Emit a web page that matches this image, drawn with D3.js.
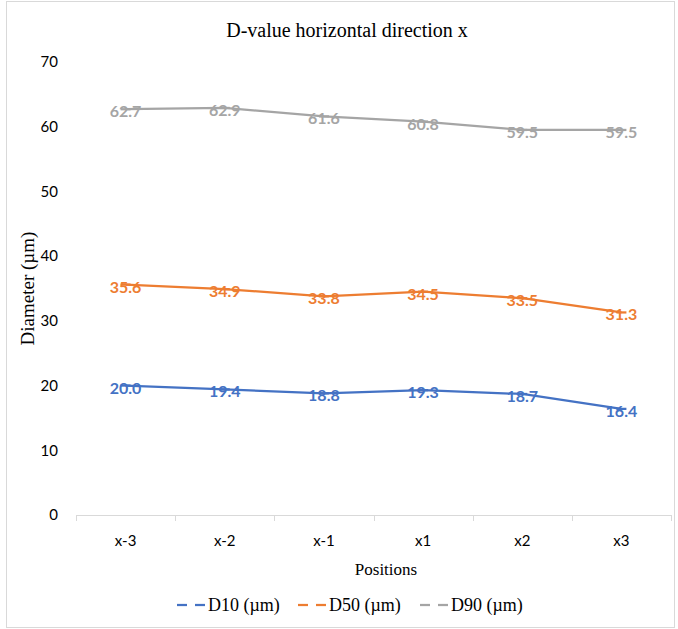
<!DOCTYPE html>
<html>
<head>
<meta charset="utf-8">
<script src="https://cdn.jsdelivr.net/npm/d3@7"></script>
<style>
  html, body { margin: 0; padding: 0; background: #fff; }
  svg { display: block; }
</style>
</head>
<body>
<svg id="chart" width="678" height="629"></svg>
<script>
// Positions along the horizontal direction
const positions = ["x-3", "x-2", "x-1", "x1", "x2", "x3"];
// Particle diameters (µm) at each position
const d10 = [20.0, 19.4, 18.8, 19.3, 18.7, 16.4];
const d50 = [35.6, 34.9, 33.8, 34.5, 33.5, 31.3];
const d90 = [62.7, 62.9, 61.6, 60.8, 59.5, 59.5];
const yTicks = [0, 10, 20, 30, 40, 50, 60, 70];

const series = [
  { name: "D10 (µm)", values: d10, color: "#4472C4" },
  { name: "D50 (µm)", values: d50, color: "#ED7D31" },
  { name: "D90 (µm)", values: d90, color: "#A5A5A5" }
];

const svg = d3.select("#chart");
const plot = { left: 76, right: 671, top: 62, bottom: 515 };
const serif = "'Liberation Serif', 'Times New Roman', serif";
const sans = "Lato, 'Open Sans', sans-serif";

// Outer frame
svg.append("rect")
  .attr("x", 6.5).attr("y", 1.5)
  .attr("width", 668).attr("height", 626)
  .attr("fill", "#fff").attr("stroke", "#d9d9d9").attr("stroke-width", 1);

const x = d3.scaleBand().domain(positions).range([plot.left, plot.right]);
const y = d3.scaleLinear().domain([0, 70]).range([plot.bottom, plot.top]);

// Title
svg.append("text")
  .attr("x", 347).attr("y", 37)
  .attr("text-anchor", "middle")
  .attr("font-family", serif)
  .attr("font-size", 20)
  .attr("fill", "#000")
  .text("D-value horizontal direction x");

// Y axis (labels only)
const yAxis = d3.axisLeft(y).tickValues(yTicks).tickSize(0).tickPadding(0).tickFormat(d3.format("d"));
const gy = svg.append("g").attr("transform", `translate(${plot.left - 18},0)`).call(yAxis);
gy.select(".domain").remove();
gy.selectAll("text")
  .attr("font-family", sans)
  .attr("font-size", 15)
  .attr("fill", "#000");

// X axis with category boundary ticks
const gx = svg.append("g").attr("transform", `translate(0,${plot.bottom})`);
gx.append("line")
  .attr("x1", plot.left).attr("x2", plot.right)
  .attr("y1", 0.5).attr("y2", 0.5)
  .attr("stroke", "#d9d9d9").attr("stroke-width", 1);
const bounds = positions.map(p => x(p)).concat([x(positions[positions.length - 1]) + x.bandwidth()]);
gx.selectAll("line.tick")
  .data(bounds)
  .enter().append("line")
  .attr("class", "tick")
  .attr("x1", d => Math.round(d) + 0.5).attr("x2", d => Math.round(d) + 0.5)
  .attr("y1", 0).attr("y2", 6)
  .attr("stroke", "#d9d9d9").attr("stroke-width", 1);
const xAxis = d3.axisBottom(x).tickSize(0).tickPadding(0);
const gxl = svg.append("g").attr("transform", `translate(0,${plot.bottom + 20})`).call(xAxis);
gxl.select(".domain").remove();
gxl.selectAll("text")
  .attr("font-family", sans)
  .attr("font-size", 15)
  .attr("fill", "#000");

// Axis titles
svg.append("text")
  .attr("x", 386).attr("y", 575)
  .attr("text-anchor", "middle")
  .attr("font-family", serif)
  .attr("font-size", 17)
  .text("Positions");

svg.append("text")
  .attr("transform", `translate(34,${(plot.top + plot.bottom) / 2}) rotate(-90)`)
  .attr("text-anchor", "middle")
  .attr("font-family", serif)
  .attr("font-size", 19)
  .text("Diameter (µm)");

// Lines, dash markers and value labels
const cx = p => x(p) + x.bandwidth() / 2;
const line = d3.line().x((d, i) => cx(positions[i])).y(d => y(d));

series.forEach(s => {
  const g = svg.append("g");
  g.append("path")
    .datum(s.values)
    .attr("d", line)
    .attr("fill", "none")
    .attr("stroke", s.color)
    .attr("stroke-width", 2.25)
    .attr("stroke-linejoin", "round");
  g.selectAll("line.marker")
    .data(s.values)
    .enter().append("line")
    .attr("class", "marker")
    .attr("x1", (d, i) => cx(positions[i]) - 5)
    .attr("x2", (d, i) => cx(positions[i]) + 5)
    .attr("y1", d => y(d)).attr("y2", d => y(d))
    .attr("stroke", s.color).attr("stroke-width", 2.25);
  g.selectAll("text.label")
    .data(s.values)
    .enter().append("text")
    .attr("class", "label")
    .attr("x", (d, i) => cx(positions[i]))
    .attr("y", d => y(d) + 8)
    .attr("text-anchor", "middle")
    .attr("font-family", sans)
    .attr("font-weight", 700)
    .attr("font-size", 16)
    .attr("fill", s.color)
    .text(d => d.toFixed(1));
});

// Legend
const legendX = [177, 298, 420];
const leg = svg.append("g");
series.forEach((s, i) => {
  const gl = leg.append("g").attr("transform", `translate(${legendX[i]},605)`);
  gl.append("line").attr("x1", 0).attr("x2", 10).attr("y1", 0).attr("y2", 0)
    .attr("stroke", s.color).attr("stroke-width", 2.25);
  gl.append("line").attr("x1", 18).attr("x2", 28).attr("y1", 0).attr("y2", 0)
    .attr("stroke", s.color).attr("stroke-width", 2.25);
  gl.append("text")
    .attr("x", 31).attr("y", 6)
    .attr("font-family", serif)
    .attr("font-size", 18)
    .attr("fill", "#000")
    .text(s.name);
});
</script>
</body>
</html>
